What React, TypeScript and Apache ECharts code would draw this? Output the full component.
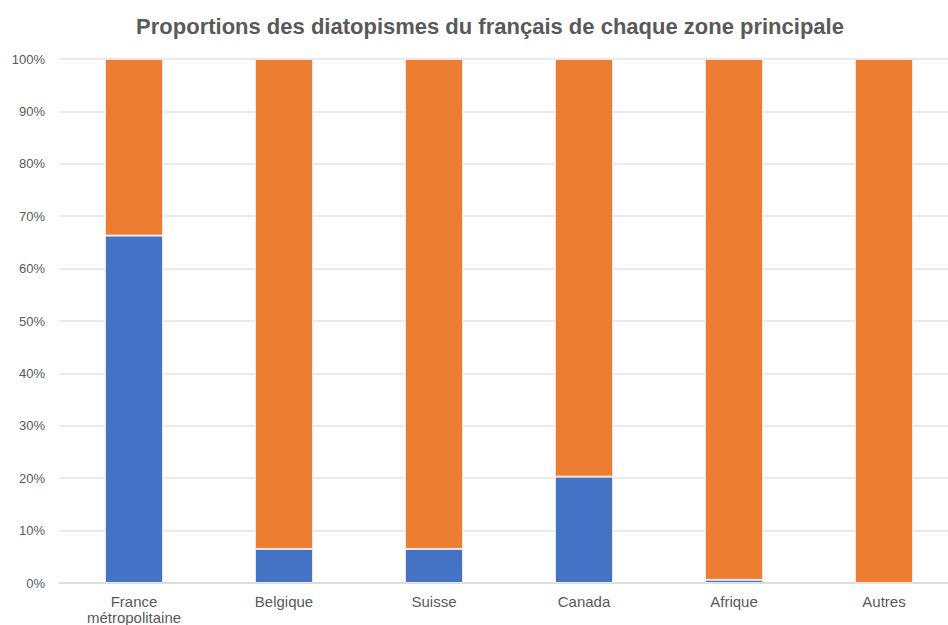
import React, { useEffect, useRef } from "react";
import * as echarts from "echarts";

const categories = ["France\nmétropolitaine", "Belgique", "Suisse", "Canada", "Afrique", "Autres"];
const blueValues = [66.3, 6.5, 6.5, 20.3, 0.6, 0];
const orangeValues = [33.7, 93.5, 93.5, 79.7, 99.4, 100];
const yTicks = [0, 10, 20, 30, 40, 50, 60, 70, 80, 90, 100];

export default function App() {
  const ref = useRef<HTMLDivElement>(null);
  useEffect(() => {
    const chart = echarts.init(ref.current!, null, { renderer: "svg" });
    const font = "'Helvetica Neue', 'Liberation Sans', Arial, sans-serif";
    chart.setOption({
      animation: false,
      title: {
        text: "Proportions des diatopismes du français de chaque zone principale",
        left: 485,
        textAlign: "center",
        top: 10,
        textStyle: { fontSize: 22, fontWeight: "bold", color: "#595959", fontFamily: font },
      },
      grid: { left: 59, top: 59, width: 900, height: 524, containLabel: false, outerBoundsMode: "none" },
      xAxis: {
        type: "category",
        data: categories,
        axisLine: { lineStyle: { color: "#d9d9d9", width: 1.5 } },
        axisTick: { show: false },
        axisLabel: { color: "#595959", fontSize: 15, fontFamily: font, margin: 10, lineHeight: 16 },
      },
      yAxis: {
        type: "value",
        min: yTicks[0],
        max: yTicks[yTicks.length - 1],
        interval: 10,
        axisLine: { show: false },
        axisTick: { show: false },
        axisLabel: { color: "#595959", fontSize: 13, fontFamily: font, formatter: "{value}%", margin: 14 },
        splitLine: { lineStyle: { color: "#e3e3e3", width: 1.5 } },
      },
      series: [
        {
          type: "bar",
          stack: "total",
          data: blueValues,
          barWidth: 58,
          itemStyle: { color: "#4472C4", borderColor: "#e8e8e8", borderWidth: 1 },
        },
        {
          type: "bar",
          stack: "total",
          data: orangeValues,
          barWidth: 58,
          itemStyle: { color: "#ED7D31", borderColor: "#e8e8e8", borderWidth: 1 },
        },
      ],
    });
    return () => chart.dispose();
  }, []);
  return <div ref={ref} style={{ width: 948, height: 625, position: "absolute", left: 0, top: 0 }} />;
}
